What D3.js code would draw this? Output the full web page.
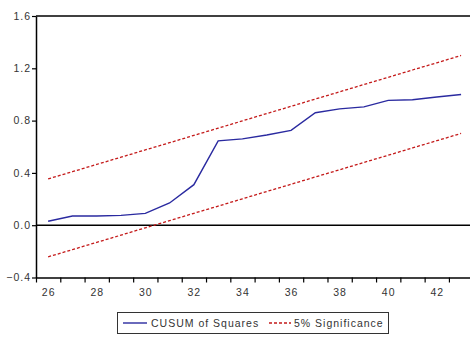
<!DOCTYPE html>
<html>
<head>
<meta charset="utf-8">
<script src="https://cdn.jsdelivr.net/npm/d3@7"></script>
<style>
  html, body { margin: 0; padding: 0; background: #fff; }
  svg { display: block; font-family: "Liberation Sans", Arial, sans-serif; }
  text { letter-spacing: 1px; }
</style>
</head>
<body>
<svg id="chart" width="470" height="337"></svg>
<script>
// Observation numbers on the x axis
const observations = [26, 27, 28, 29, 30, 31, 32, 33, 34, 35, 36, 37, 38, 39, 40, 41, 42, 43];
// CUSUM of squares statistic
const cusumSq = [0.03, 0.07, 0.07, 0.075, 0.09, 0.17, 0.31, 0.645, 0.66, 0.69, 0.725, 0.86, 0.89, 0.905, 0.955, 0.96, 0.98, 1.0];
// 5% significance bands
const upperBand = [0.354, 0.409, 0.465, 0.520, 0.576, 0.631, 0.687, 0.742, 0.798, 0.854, 0.909, 0.965, 1.020, 1.076, 1.131, 1.187, 1.242, 1.298];
const lowerBand = [-0.242, -0.187, -0.131, -0.076, -0.020, 0.035, 0.091, 0.146, 0.202, 0.258, 0.313, 0.369, 0.424, 0.480, 0.535, 0.591, 0.646, 0.702];
// Axis ticks
const yTicks = [-0.4, 0.0, 0.4, 0.8, 1.2, 1.6];
const xLabelTicks = [26, 28, 30, 32, 34, 36, 38, 40, 42];
const legendLabels = ["CUSUM of Squares", "5% Significance"];

const svg = d3.select("#chart");
const plotLeft = 36, plotTop = 16, plotBottom = 277.5;
const step = 24.29;

const x = d3.scaleLinear().domain([25.5, 43.5]).range([plotLeft, plotLeft + 18 * step]);
const y = d3.scaleLinear().domain([-0.4, 1.6]).range([plotBottom, plotTop]);

const textColor = "#333";

// Y axis
const yAxis = svg.append("g").attr("transform", `translate(${plotLeft},0)`)
  .call(d3.axisLeft(y).tickValues(yTicks).tickFormat(d3.format(".1f")).tickSize(4).tickSizeOuter(0));
yAxis.select(".domain").attr("stroke", "#000").attr("stroke-width", 1.5);
yAxis.selectAll(".tick line").attr("stroke", "#000").attr("stroke-width", 1.2);
yAxis.selectAll(".tick text").attr("fill", textColor).attr("font-size", 10.5).attr("x", -5);

// X axis: ticks between observations, labels on every second observation
const boundaryTicks = d3.range(25.5, 44, 1);
const xAxis = svg.append("g").attr("transform", `translate(0,${plotBottom})`)
  .call(d3.axisBottom(x).tickValues(boundaryTicks).tickFormat("").tickSize(5).tickSizeOuter(0));
xAxis.select(".domain").attr("stroke", "#000").attr("stroke-width", 1.5);
xAxis.selectAll(".tick line").attr("stroke", "#000").attr("stroke-width", 1.2);

svg.append("g").selectAll("text").data(xLabelTicks).join("text")
  .attr("x", d => x(d) + 0.5).attr("y", plotBottom + 18.5)
  .attr("text-anchor", "middle").attr("font-size", 10.5).attr("fill", textColor)
  .text(d => d);

// Top frame line
svg.append("line")
  .attr("x1", plotLeft).attr("x2", x(43.5)).attr("y1", plotTop).attr("y2", plotTop)
  .attr("stroke", "#000").attr("stroke-width", 1.5);

// Zero line
svg.append("line")
  .attr("x1", plotLeft).attr("x2", x(43.5)).attr("y1", y(0)).attr("y2", y(0))
  .attr("stroke", "#000").attr("stroke-width", 1.5);

const line = d3.line().x((d, i) => x(observations[i])).y(d => y(d));

// Significance bands
[upperBand, lowerBand].forEach(band => {
  svg.append("path").datum(band)
    .attr("d", line).attr("fill", "none")
    .attr("stroke", "#c41a1a").attr("stroke-width", 1.3)
    .attr("stroke-dasharray", "3,2");
});

// CUSUM of squares line
svg.append("path").datum(cusumSq)
  .attr("d", line).attr("fill", "none")
  .attr("stroke", "#2a2aa0").attr("stroke-width", 1.4);

// Legend
const lg = svg.append("g");
lg.append("rect").attr("x", 117.5).attr("y", 312.5).attr("width", 271).attr("height", 21)
  .attr("fill", "#fff").attr("stroke", "#333").attr("stroke-width", 1);
lg.append("line").attr("x1", 123).attr("x2", 147).attr("y1", 323).attr("y2", 323)
  .attr("stroke", "#2a2aa0").attr("stroke-width", 1.4);
lg.append("text").attr("x", 151).attr("y", 327).attr("font-size", 10.5).attr("fill", textColor)
  .text(legendLabels[0]);
lg.append("line").attr("x1", 269).attr("x2", 291).attr("y1", 323).attr("y2", 323)
  .attr("stroke", "#c41a1a").attr("stroke-width", 1.3).attr("stroke-dasharray", "3,2");
lg.append("text").attr("x", 294).attr("y", 327).attr("font-size", 10.5).attr("fill", textColor)
  .text(legendLabels[1]);
</script>
</body>
</html>
